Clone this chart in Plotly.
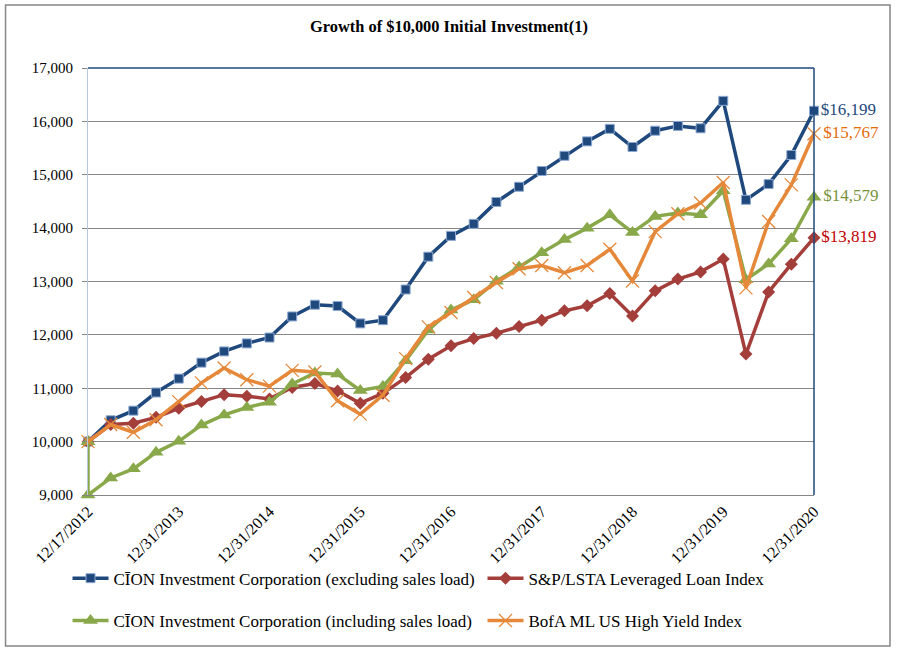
import plotly.graph_objects as go

dates = ["12/17/2012",
         "3/31/2013", "6/30/2013", "9/30/2013", "12/31/2013",
         "3/31/2014", "6/30/2014", "9/30/2014", "12/31/2014",
         "3/31/2015", "6/30/2015", "9/30/2015", "12/31/2015",
         "3/31/2016", "6/30/2016", "9/30/2016", "12/31/2016",
         "3/31/2017", "6/30/2017", "9/30/2017", "12/31/2017",
         "3/31/2018", "6/30/2018", "9/30/2018", "12/31/2018",
         "3/31/2019", "6/30/2019", "9/30/2019", "12/31/2019",
         "3/31/2020", "6/30/2020", "9/30/2020", "12/31/2020"]

tick_labels = ["12/17/2012", "12/31/2013", "12/31/2014", "12/31/2015", "12/31/2016",
               "12/31/2017", "12/31/2018", "12/31/2019", "12/31/2020"]

cion_excl = [10000, 10400, 10580, 10920, 11180, 11480, 11690, 11840, 11950,
             12345, 12565, 12540, 12215, 12275, 12850, 13465, 13855, 14080,
             14490, 14775, 15070, 15355, 15625, 15860, 15520, 15825, 15915,
             15870, 16385, 14530, 14825, 15370, 16199]

loan_index = [10000, 10320, 10345, 10455, 10625, 10750, 10880, 10850, 10800,
              11015, 11090, 10950, 10720, 10905, 11200, 11545, 11795, 11930,
              12030, 12155, 12275, 12450, 12545, 12775, 12355, 12825, 13045,
              13180, 13420, 11640, 12805, 13325, 13819]

cion_incl_dates = [dates[0]] + dates
cion_incl = [10000, 9000, 9320, 9490, 9800, 10005, 10310, 10500, 10640, 10740,
             11080, 11285, 11265, 10960, 11035, 11515, 12090, 12465, 12660,
             13005, 13270, 13540, 13785, 14000, 14250, 13920, 14220, 14285,
             14250, 14700, 13035, 13330, 13800, 14579]

hy_index = [10000, 10320, 10175, 10410, 10750, 11100, 11380, 11160, 11040,
            11335, 11305, 10765, 10515, 10870, 11555, 12150, 12420, 12700,
            12980, 13240, 13300, 13165, 13300, 13605, 13010, 13935, 14270,
            14470, 14855, 12880, 14125, 14810, 15767]

names = ["C\u012aON Investment Corporation (excluding sales load)",
         "S&P/LSTA Leveraged Loan Index",
         "C\u012aON Investment Corporation (including sales load)",
         "BofA ML US High Yield Index"]

FONT = "Liberation Serif, Times New Roman, serif"


def end_label(vals):
    return [""] * (len(vals) - 1) + ["${:,}".format(vals[-1])]


fig = go.Figure()

series = [
    (dates, cion_excl, names[0], "#1F497D", "#1F497D",
     dict(symbol="square", size=9, color="#1F497D", line=dict(color="#8EA9D1", width=1)), "legend"),
    (dates, loan_index, names[1], "#A33E3B", "#C00000",
     dict(symbol="diamond", size=10, color="#A33E3B", line=dict(color="#A33E3B", width=0)), "legend2"),
    (cion_incl_dates, cion_incl, names[2], "#88A84A", "#77933C",
     dict(symbol="triangle-up", size=13, color="#88A84A", line=dict(color="#88A84A", width=0)), "legend3"),
    (dates, hy_index, names[3], "#E5883A", "#E46C0A",
     dict(symbol="x-thin", size=13, color="#E5883A", line=dict(color="#E5883A", width=1.3)), "legend4"),
]

for x, y, name, col, lcol, mk, lg in series:
    fig.add_trace(go.Scatter(
        x=x, y=y, name=name, mode="lines+markers+text",
        line=dict(color=col, width=3.5),
        marker=mk,
        text=end_label(y), textposition="middle right",
        textfont=dict(family=FONT, size=17, color=lcol),
        cliponaxis=False, legend=lg, showlegend=True,
    ))


def leg(x, y):
    return dict(orientation="h", x=x, xanchor="left", y=y, yanchor="middle",
                font=dict(family=FONT, size=17, color="black"),
                bgcolor="rgba(0,0,0,0)", itemwidth=36)


fig.update_layout(
    width=898, height=652,
    showlegend=True,
    margin=dict(l=88, r=84, t=68, b=157),
    paper_bgcolor="white", plot_bgcolor="white",
    font=dict(family=FONT, size=15, color="black"),
    title=dict(text="<b>Growth of $10,000 Initial Investment(1)</b>",
               x=0.5, xanchor="center", y=0.960, yanchor="middle",
               font=dict(family=FONT, size=16.4, color="black")),
    xaxis=dict(type="category", range=[0, 32], tickvals=tick_labels, ticktext=tick_labels,
               tickangle=-45, showgrid=False, showline=True, linecolor="#868686",
               linewidth=1, ticks="", tickfont=dict(family=FONT, size=16, color="black"),
               zeroline=False),
    yaxis=dict(range=[9000, 17000], dtick=1000, tickformat=",d", showgrid=True,
               gridcolor="#868686", gridwidth=1, showline=True, linecolor="#B9C9DD",
               linewidth=1, ticks="outside", ticklen=5, tickcolor="#868686",
               ticklabelstandoff=6, tickfont=dict(family=FONT, size=15, color="black"),
               zeroline=False),
    legend=leg(-0.0282, -0.1958),
    legend2=leg(0.5434, -0.1958),
    legend3=leg(-0.0282, -0.2951),
    legend4=leg(0.5434, -0.2951),
    shapes=[
        dict(type="rect", xref="paper", yref="paper", x0=-0.1136, x1=1.1047,
             y0=-0.3536, y1=1.1475, line=dict(color="#868686", width=1.5)),
        dict(type="line", xref="paper", yref="paper", x0=0, x1=1, y0=1, y1=1,
             line=dict(color="#1F497D", width=1.5)),
        dict(type="line", xref="paper", yref="paper", x0=1, x1=1, y0=0, y1=1,
             line=dict(color="#1F497D", width=1.5)),
    ],
)

fig.write_html("out.html", config={"displayModeBar": False},
               post_script="document.body.style.margin='0px';")
